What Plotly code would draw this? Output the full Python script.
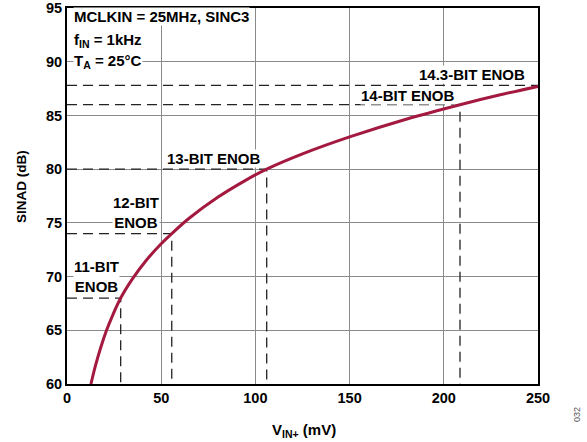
import plotly.graph_objects as go

# Curve data
vin_mv = [12.7, 15, 18, 21, 24, 28.5, 35, 42, 50, 55.6, 65, 80, 95, 106,
          125, 150, 180, 208.6, 230, 250]
sinad_db = [60.0, 61.65, 63.45, 65.0, 66.3, 68.0, 69.85, 71.5, 73.05, 74.0, 75.45, 77.38,
            78.98, 80.0, 81.42, 83.0, 84.65, 86.0, 86.92, 87.7]

# ENOB marker levels
enob_labels = ["11-BIT<br>ENOB", "12-BIT<br>ENOB", "13-BIT ENOB", "14-BIT ENOB", "14.3-BIT ENOB"]
enob_sinad = [68, 74, 80, 86, 87.8]
enob_vin = [28.5, 55.6, 106, 208.6, 250]
enob_label_x = [15.4, 36.6, 78, 181, 215]
enob_label_y = [70.0, 76.0, 81.0, 86.9, 88.8]

cond_lines = ["MCLKIN = 25MHz, SINC3", "f<sub>IN</sub> = 1kHz", "T<sub>A</sub> = 25°C"]

FONT = "Liberation Sans, Arial, sans-serif"
L, R, T, B = 67, 538, 8, 384
PW, PH = R - L, B - T

fig = go.Figure()

# dashed ENOB guide lines
for i, (vx, sy) in enumerate(zip(enob_vin, enob_sinad)):
    if i < len(enob_vin) - 1:
        xs, ys = [0, vx, vx], [sy, sy, 60]
    else:
        xs, ys = [0, vx], [sy, sy]
    fig.add_trace(go.Scatter(x=xs, y=ys, mode="lines",
                             line=dict(color="#222222", width=1.3, dash="10px,6px"),
                             hoverinfo="skip", showlegend=False))

fig.add_trace(go.Scatter(x=vin_mv, y=sinad_db, mode="lines", line_shape="spline",
                         line=dict(color="#A3193F", width=3, smoothing=1.0), showlegend=False))

for lab, lx, ly in zip(enob_labels, enob_label_x, enob_label_y):
    fig.add_annotation(x=lx, y=ly, text="<b>" + lab + "</b>", showarrow=False,
                       bgcolor="white", font=dict(family=FONT, size=15, color="black"),
                       borderpad=0)

cond_y = [17, 40, 62]
for t, yy in zip(cond_lines, cond_y):
    fig.add_annotation(xref="paper", yref="paper", x=6 / PW, xanchor="left",
                       y=1 - (yy - T) / PH, yanchor="middle", text="<b>" + t + "</b>",
                       showarrow=False, bgcolor="white", align="left",
                       font=dict(family=FONT, size=15, color="black"), borderpad=0)

# axis titles as annotations for exact placement
fig.add_annotation(xref="paper", yref="paper", x=(21 - L) / PW, y=(B - 187) / PH,
                   xanchor="center", yanchor="middle",
                   text="<b>SINAD (dB)</b>", textangle=-90, showarrow=False,
                   font=dict(family=FONT, size=13.5, color="black"))
fig.add_annotation(xref="paper", yref="paper", x=(304 - L) / PW, y=(B - 430) / PH,
                   xanchor="center", yanchor="middle",
                   text="<b>V<sub>IN+</sub> (mV)</b>", showarrow=False,
                   font=dict(family=FONT, size=15, color="black"))

fig.add_annotation(xref="paper", yref="paper", x=(577 - L) / PW, y=(B - 415) / PH,
                   xanchor="center", yanchor="middle",
                   text="032", textangle=-90, showarrow=False,
                   font=dict(family=FONT, size=9, color="#555555"))

axis_common = dict(showline=True, linecolor="black", linewidth=2, mirror=True,
                   showgrid=True, gridcolor="#8a8a8a", gridwidth=1, zeroline=False,
                   ticks="", automargin=False,
                   tickfont=dict(family=FONT, size=14.5, color="black", weight="bold"))

fig.update_xaxes(range=[0, 250], tickvals=[0, 50, 100, 150, 200, 250], **axis_common)
fig.update_yaxes(range=[60, 95], tickvals=[60, 65, 70, 75, 80, 85, 90, 95], **axis_common)

fig.update_layout(width=587, height=442, margin=dict(l=L, r=587 - R, t=T, b=442 - B),
                  plot_bgcolor="white", paper_bgcolor="white", showlegend=False)

fig.write_html("out.html")
